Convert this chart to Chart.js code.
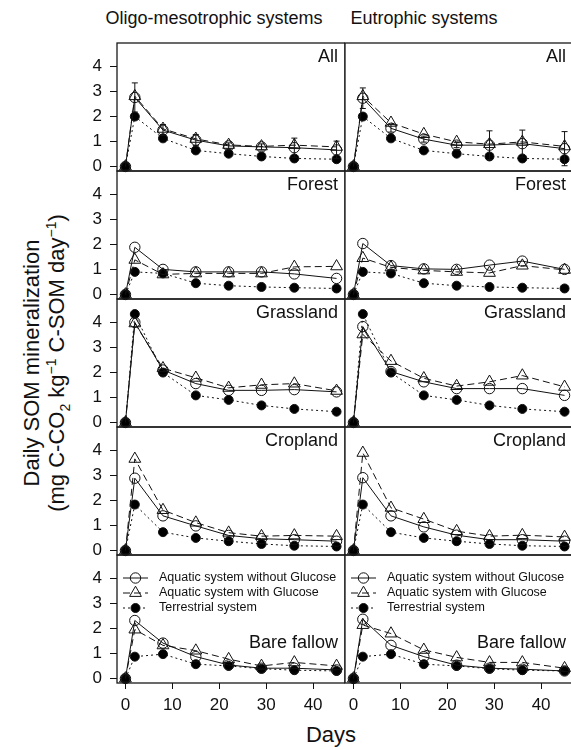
<!DOCTYPE html>
<html>
<head>
<meta charset="utf-8">
<script src="https://cdn.jsdelivr.net/npm/chart.js@4.4.1/dist/chart.umd.min.js"></script>
<style>
	body { margin: 0; width: 571px; height: 750px; overflow: hidden; background: #fff; position: relative; font-family: "Liberation Sans", Arial, sans-serif; color: #111 }
	canvas { position: absolute }
	.txt { position: absolute; white-space: nowrap; line-height: 1 }
</style>
</head>
<body>
<div class="txt" style="left:214px; top:18px; font-size:18px; transform:translate(-50%,-50%)">Oligo-mesotrophic systems</div>
<div class="txt" style="left:424px; top:18px; font-size:18px; transform:translate(-50%,-50%)">Eutrophic systems</div>
<div class="txt" style="left:32px; top:363px; font-size:22px; transform:translate(-50%,-50%) rotate(-90deg)">Daily SOM mineralization</div>
<div class="txt" style="left:58px; top:363px; font-size:22px; transform:translate(-50%,-50%) rotate(-90deg)">(mg C-CO<sub style="font-size:14px">2</sub> kg<sup style="font-size:14px">&minus;1</sup> C-SOM day<sup style="font-size:14px">&minus;1</sup>)</div>
<div class="txt" style="left:331px; top:735px; font-size:22px; transform:translate(-50%,-50%)">Days</div>
<script>
const FONT = `"Liberation Sans", Arial, sans-serif`

//  Sampling days and axis ticks
const days = [0, 2, 8, 15, 22, 29, 36, 45]
const dayTicks = [0, 10, 20, 30, 40]
const rateTicks = [0, 1, 2, 3, 4]
const soils = [`All`, `Forest`, `Grassland`, `Cropland`, `Bare fallow`]
const seriesNames = [`Aquatic system without Glucose`, `Aquatic system with Glucose`, `Terrestrial system`]

//  One row per soil (All, Forest, Grassland, Cropland, Bare fallow)
const oligoNoGlucose = [
	[0, 2.75, 1.45, 1.05, 0.82, 0.78, 0.75, 0.66],
	[0, 1.88, 1.00, 0.90, 0.90, 0.90, 0.82, 0.64],
	[0, 3.99, 2.09, 1.55, 1.28, 1.28, 1.31, 1.22],
	[0, 2.88, 1.38, 0.98, 0.60, 0.47, 0.43, 0.37],
	[0, 2.31, 1.41, 0.87, 0.54, 0.41, 0.41, 0.34]
]
const oligoGlucose = [
	[0, 2.80, 1.50, 1.10, 0.86, 0.80, 0.85, 0.78],
	[0, 1.38, 0.80, 0.84, 0.84, 0.84, 1.10, 1.12],
	[0, 3.95, 2.16, 1.78, 1.38, 1.50, 1.55, 1.26],
	[0, 3.65, 1.61, 1.11, 0.71, 0.57, 0.60, 0.57],
	[0, 1.95, 1.32, 1.11, 0.77, 0.50, 0.64, 0.50]
]
const eutroNoGlucose = [
	[0, 2.72, 1.52, 1.09, 0.85, 0.85, 0.91, 0.71],
	[0, 2.03, 1.15, 1.02, 1.00, 1.17, 1.33, 1.00],
	[0, 3.82, 2.03, 1.62, 1.35, 1.35, 1.35, 1.08],
	[0, 2.90, 1.38, 0.94, 0.61, 0.43, 0.43, 0.37],
	[0, 2.36, 1.32, 0.87, 0.53, 0.41, 0.37, 0.30]
]
const eutroGlucose = [
	[0, 2.80, 1.74, 1.29, 0.98, 0.89, 0.98, 0.80],
	[0, 1.45, 1.08, 0.96, 0.90, 0.86, 1.15, 0.98],
	[0, 3.51, 2.45, 1.76, 1.45, 1.62, 1.87, 1.42],
	[0, 3.89, 1.70, 1.25, 0.77, 0.57, 0.61, 0.54],
	[0, 2.13, 1.79, 1.14, 0.84, 0.64, 0.64, 0.41]
]
//  Terrestrial incubation is the same in both columns
const terrestrial = [
	[0, 1.99, 1.12, 0.64, 0.51, 0.40, 0.32, 0.29],
	[0, 0.90, 0.84, 0.45, 0.35, 0.30, 0.27, 0.24],
	[0, 4.32, 1.99, 1.08, 0.90, 0.68, 0.54, 0.43],
	[0, 1.83, 0.73, 0.50, 0.37, 0.26, 0.19, 0.16],
	[0, 0.87, 0.97, 0.57, 0.50, 0.39, 0.33, 0.30]
]
//  Error bars, only shown on the "All" panels
const oligoAllError = [0, 0.58, 0.22, 0.22, 0.12, 0.12, 0.38, 0.35]
const eutroAllError = [0, 0.41, 0.15, 0.12, 0.10, 0.57, 0.54, 0.68]

//  Page layout
const PANEL_TOP = 43
const PANEL_H = 128
const LEFT_EDGE = 117
const MID = 345
const RIGHT_EDGE = 573
const PAD = 12
const X_AXIS_H = 44

Chart.defaults.font.family = FONT
Chart.defaults.color = `#000`

//  Box round each panel
const panelBox = {
	id: `panelBox`,
	beforeDatasetsDraw(chart) {
		const { ctx, chartArea: a } = chart
		ctx.save()
		ctx.strokeStyle = `#1a1a1a`
		ctx.lineWidth = 1.3
		ctx.strokeRect(a.left, a.top, a.right - a.left, a.bottom - a.top)
		ctx.restore()
	}
}

//  Soil name in the upper right corner
const panelLabel = {
	id: `panelLabel`,
	afterDatasetsDraw(chart, args, opts) {
		const { ctx, chartArea: a } = chart
		ctx.save()
		ctx.font = `18px ${FONT}`
		ctx.fillStyle = `#111`
		ctx.textAlign = `right`
		ctx.textBaseline = `alphabetic`
		ctx.fillText(opts.text, a.right - 7, a.top + opts.baseline)
		ctx.restore()
	}
}

//  Vertical error bars with small caps
const errorBars = {
	id: `errorBars`,
	afterDatasetsDraw(chart, args, opts) {
		if (!opts.values) return
		const { ctx, scales: { x, y } } = chart
		const ds = chart.data.datasets[opts.dataset]
		ctx.save()
		ctx.strokeStyle = `#111`
		ctx.lineWidth = 1
		ds.data.forEach((p, i) => {
			const e = opts.values[i]
			if (!e) return
			const px = x.getPixelForValue(p.x)
			const hi = y.getPixelForValue(p.y + e)
			const lo = y.getPixelForValue(p.y - e)
			ctx.beginPath()
			ctx.moveTo(px, hi); ctx.lineTo(px, lo)
			ctx.moveTo(px - 3, hi); ctx.lineTo(px + 3, hi)
			ctx.moveTo(px - 3, lo); ctx.lineTo(px + 3, lo)
			ctx.stroke()
		})
		ctx.restore()
	}
}

//  Key drawn inside the bottom panels
const keyBox = {
	id: `keyBox`,
	afterDatasetsDraw(chart, args, opts) {
		if (!opts.show) return
		const { ctx, chartArea: a } = chart
		ctx.save()
		chart.data.datasets.forEach((ds, i) => {
			const y = a.top + 23 + i * 15
			const x0 = a.left + 6
			const x1 = a.left + 31
			ctx.strokeStyle = `#111`
			ctx.lineWidth = 1
			ctx.setLineDash(ds.borderDash || [])
			ctx.beginPath()
			ctx.moveTo(x0, y); ctx.lineTo(x1, y)
			ctx.stroke()
			ctx.setLineDash([])
			ctx.fillStyle = ds.pointBackgroundColor
			Chart.helpers.drawPoint(ctx, { pointStyle: ds.pointStyle, radius: ds.pointRadius, borderWidth: 1, rotation: 0 }, (x0 + x1) / 2, y)
			ctx.fillStyle = `#111`
			ctx.font = `12.5px ${FONT}`
			ctx.textAlign = `left`
			ctx.textBaseline = `middle`
			ctx.fillText(ds.label, a.left + 42, y)
		})
		ctx.restore()
	}
}

function series(values) {
	return days.map((d, i) => ({ x: d, y: values[i] }))
}

function buildPanel(row, col) {
	const isLeft = col === 0
	const isBottom = row === soils.length - 1
	const top = PANEL_TOP + row * PANEL_H
	const left = isLeft ? 0 : MID - 10
	const width = isLeft ? MID : RIGHT_EDGE + 12 - left

	const canvas = document.createElement(`canvas`)
	canvas.width = width
	canvas.height = PAD + PANEL_H + (isBottom ? X_AXIS_H : PAD)
	canvas.style.left = `${left}px`
	canvas.style.top = `${top - PAD}px`
	document.body.appendChild(canvas)

	const noGlucose = (isLeft ? oligoNoGlucose : eutroNoGlucose)[row]
	const glucose = (isLeft ? oligoGlucose : eutroGlucose)[row]
	const line = { borderColor: `#111`, borderWidth: 1, pointBorderColor: `#111`, pointBorderWidth: 1, tension: 0, fill: false, clip: false }

	new Chart(canvas, {
		type: `line`,
		data: {
			datasets: [
				{ ...line, label: seriesNames[0], data: series(noGlucose), pointStyle: `circle`, pointRadius: 5.2, pointBackgroundColor: `rgba(0,0,0,0)` },
				{ ...line, label: seriesNames[1], data: series(glucose), borderDash: [7, 4], pointStyle: `triangle`, pointRadius: 6.8, pointBackgroundColor: `rgba(0,0,0,0)` },
				{ ...line, label: seriesNames[2], data: series(terrestrial[row]), borderDash: [2, 3], pointStyle: `circle`, pointRadius: 4.5, pointBackgroundColor: `#000` }
			]
		},
		options: {
			responsive: false,
			animation: false,
			events: [],
			devicePixelRatio: 1,
			layout: {
				autoPadding: false,
				padding: { left: isLeft ? 0 : 10, right: isLeft ? 0 : 12, top: PAD, bottom: isBottom ? 0 : PAD }
			},
			scales: {
				x: {
					type: `linear`,
					min: -1.8,
					max: 46.8,
					display: isBottom,
					afterBuildTicks: s => { s.ticks = dayTicks.map(v => ({ value: v })) },
					afterFit: s => {
						s.paddingLeft = s.paddingRight = 0
						if (isBottom) s.height = X_AXIS_H
					},
					border: { display: false },
					grid: { drawOnChartArea: false, tickLength: 6, color: `#111`, lineWidth: 1 },
					ticks: { font: { size: 17 }, color: `#111`, padding: 6, maxRotation: 0, autoSkip: false }
				},
				y: {
					type: `linear`,
					min: -0.18,
					max: 4.92,
					display: isLeft,
					afterBuildTicks: s => { s.ticks = rateTicks.map(v => ({ value: v })) },
					afterFit: s => {
						s.paddingTop = s.paddingBottom = 0
						if (isLeft) s.width = LEFT_EDGE
					},
					border: { display: false },
					grid: { drawOnChartArea: false, tickLength: 7, color: `#111`, lineWidth: 1 },
					ticks: { font: { size: 17 }, color: `#111`, padding: 8 }
				}
			},
			plugins: {
				legend: { display: false },
				tooltip: { enabled: false },
				panelLabel: { text: soils[row], baseline: isBottom ? 93 : 19 },
				errorBars: { values: row === 0 ? (isLeft ? oligoAllError : eutroAllError) : null, dataset: 0 },
				keyBox: { show: isBottom }
			}
		},
		plugins: [panelBox, panelLabel, errorBars, keyBox]
	})
}

soils.forEach((soil, row) => {
	buildPanel(row, 0)
	buildPanel(row, 1)
})
</script>
</body>
</html>
